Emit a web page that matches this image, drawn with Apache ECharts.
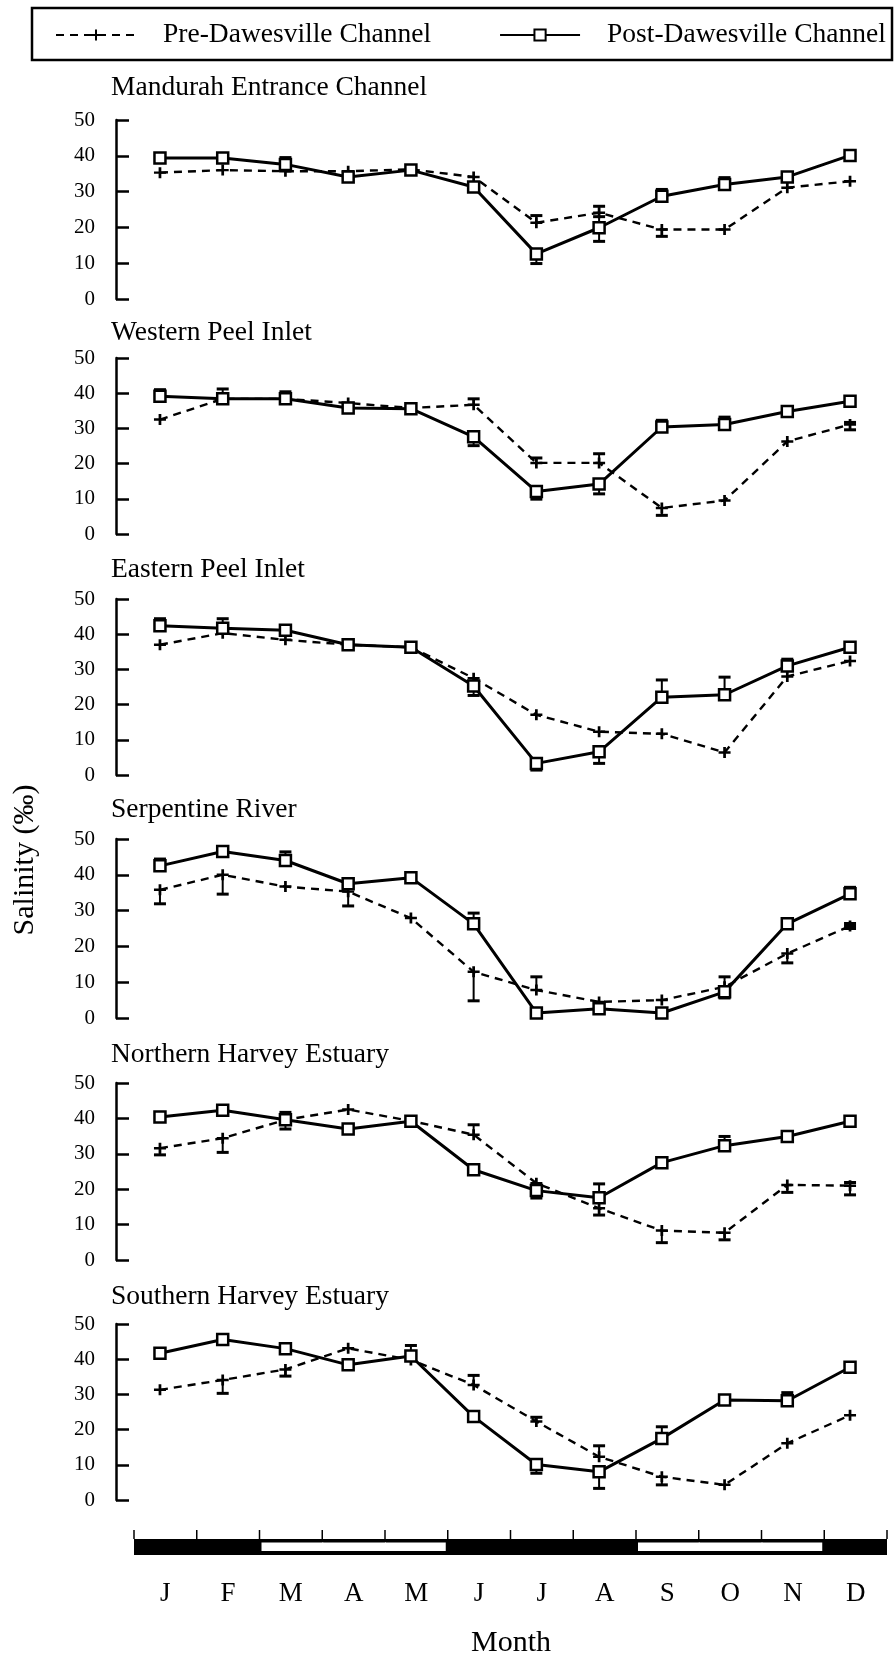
<!DOCTYPE html>
<html>
<head>
<meta charset="utf-8">
<script src="https://cdn.jsdelivr.net/npm/echarts@6/dist/echarts.min.js"></script>
<style>
  html, body { margin: 0; padding: 0; background: #fff; }
  #chart { width: 894px; height: 1658px; }
</style>
</head>
<body>
<div id="chart"></div>
<script>
// ---------- data ----------
const months = ['J', 'F', 'M', 'A', 'M', 'J', 'J', 'A', 'S', 'O', 'N', 'D'];
const seriesNames = ['Pre-Dawesville Channel', 'Post-Dawesville Channel'];
const sites = ['Mandurah Entrance Channel', 'Western Peel Inlet', 'Eastern Peel Inlet',
               'Serpentine River', 'Northern Harvey Estuary', 'Southern Harvey Estuary'];
const salinityMin = 0, salinityMax = 50, salinityStep = 10;
// 1 = dark season band, 0 = light season band
const seasonShade = [1, 1, 0, 0, 0, 1, 1, 1, 0, 0, 0, 1];

// mean salinity per month; error-bar ends as [low, high] (null = no bar)
const mandurahPre  = [35.3, 36.0, 35.7, 35.7, 36.2, 34.1, 21.3, 24.1, 19.4, 19.4, 31.1, 32.9];
const mandurahPreErr  = [null, null, null, null, null, null, [21.3, 23.3], [24.1, 25.9], [17.5, 19.4], null, null, null];
const mandurahPost = [39.4, 39.4, 37.6, 34.1, 36.0, 31.3, 12.6, 19.9, 28.7, 32.0, 34.1, 40.1];
const mandurahPostErr = [null, null, [37.6, 39.5], null, null, null, [9.9, 12.6], [16.1, 23.0], [28.7, 30.6], [32.0, 33.9], null, null];

const westernPre  = [32.5, 38.4, 38.4, 37.2, 35.8, 36.7, 20.2, 20.2, 7.4, 9.5, 26.3, 31.1];
const westernPreErr  = [null, null, null, null, null, [36.7, 38.4], [20.2, 21.6], [20.2, 22.8], [5.3, 7.4], null, null, [29.6, 31.7]];
const westernPost = [39.1, 38.4, 38.4, 35.8, 35.6, 27.6, 12.1, 14.2, 30.4, 31.1, 34.8, 37.7];
const westernPostErr = [[39.1, 41.0], [38.4, 41.2], [38.4, 40.4], null, null, [25.1, 27.6], [9.9, 12.1], [11.4, 14.2], [30.4, 32.3], [31.1, 33.2], null, null];

const easternPre  = [37.0, 40.3, 38.4, 37.0, 36.3, 27.5, 17.1, 12.3, 11.7, 6.4, 28.0, 32.4];
const easternPreErr  = [null, null, null, null, null, null, null, null, null, null, null, null];
const easternPost = [42.4, 41.7, 41.1, 37.0, 36.3, 25.3, 3.3, 6.6, 22.1, 22.8, 31.0, 36.3];
const easternPostErr = [[42.4, 44.4], [41.7, 44.4], null, null, null, [22.6, 25.3], [1.4, 3.3], [3.3, 6.6], [22.1, 27.0], [22.8, 27.8], [31.0, 32.9], null];

const serpentinePre  = [35.8, 40.0, 36.7, 35.3, 27.9, 12.9, 7.8, 4.5, 5.0, 8.7, 18.0, 25.7];
const serpentinePreErr  = [[31.9, 35.8], [34.6, 40.0], null, [31.3, 35.3], null, [4.8, 12.9], [7.8, 11.5], null, null, [8.7, 11.5], [15.4, 18.0], [25.0, 26.4]];
const serpentinePost = [42.5, 46.5, 44.0, 37.5, 39.2, 26.3, 1.4, 2.6, 1.4, 7.3, 26.3, 34.7];
const serpentinePostErr = [[42.5, 44.4], null, [44.0, 46.4], null, null, [26.3, 29.3], null, null, null, [5.6, 7.3], null, [34.7, 36.5]];

const northHarveyPre  = [31.6, 34.4, 39.6, 42.5, 39.3, 35.4, 21.7, 14.6, 8.3, 7.7, 21.2, 21.0];
const northHarveyPreErr  = [[29.7, 31.6], [30.4, 34.4], null, null, null, [35.4, 38.2], null, [12.7, 14.6], [4.9, 8.3], [5.7, 7.7], [19.1, 21.2], [18.4, 21.9]];
const northHarveyPost = [40.4, 42.3, 39.6, 37.0, 39.2, 25.5, 19.6, 17.6, 27.5, 32.3, 34.9, 39.2];
const northHarveyPostErr = [null, null, [37.0, 41.7], null, null, null, [17.5, 19.6], [17.6, 21.5], null, [32.3, 34.9], null, null];

const southHarveyPre  = [31.3, 34.1, 37.1, 43.1, 39.8, 32.7, 22.3, 12.3, 6.6, 4.3, 16.1, 24.1];
const southHarveyPreErr  = [null, [30.3, 34.1], [35.2, 37.1], null, null, [32.7, 35.4], [22.3, 23.5], [12.3, 15.4], [4.3, 6.6], null, null, null];
const southHarveyPost = [41.7, 45.6, 43.0, 38.4, 40.9, 23.7, 10.1, 8.0, 17.5, 28.4, 28.2, 37.7];
const southHarveyPostErr = [null, null, null, null, [40.9, 43.9], null, [7.6, 10.1], [3.3, 8.0], [17.5, 20.8], null, [28.2, 30.5], null];

const panels = [
  { pre: mandurahPre,    preErr: mandurahPreErr,    post: mandurahPost,    postErr: mandurahPostErr },
  { pre: westernPre,     preErr: westernPreErr,     post: westernPost,     postErr: westernPostErr },
  { pre: easternPre,     preErr: easternPreErr,     post: easternPost,     postErr: easternPostErr },
  { pre: serpentinePre,  preErr: serpentinePreErr,  post: serpentinePost,  postErr: serpentinePostErr },
  { pre: northHarveyPre, preErr: northHarveyPreErr, post: northHarveyPost, postErr: northHarveyPostErr },
  { pre: southHarveyPre, preErr: southHarveyPreErr, post: southHarveyPost, postErr: southHarveyPostErr }
];

// ---------- layout ----------
const FONT = '"Liberation Serif", "Times New Roman", "DejaVu Serif", serif';
const panelTop    = [120, 358, 599, 839, 1083, 1324];
const panelBottom = [299, 534, 775, 1018, 1260, 1500];
const titleY      = [88, 333, 570, 810, 1055, 1297];
const plotLeft = 128.6, plotRight = 12.6, axisOffset = 12.6;

const PLUS = 'path://M5,0L5,10M0,5L10,5';

function errorBarRenderer(params, api) {
  const idx = api.value(0);
  const mean = api.value(1), lo = api.value(2), hi = api.value(3);
  const x = api.coord([idx, mean])[0];
  const yLo = api.coord([idx, lo])[1];
  const yHi = api.coord([idx, hi])[1];
  const half = 6;
  const children = [{
    type: 'line', shape: { x1: x, y1: yLo, x2: x, y2: yHi },
    style: { stroke: '#000', lineWidth: 2 }
  }];
  if (hi !== mean) children.push({
    type: 'line', shape: { x1: x - half, y1: yHi, x2: x + half, y2: yHi },
    style: { stroke: '#000', lineWidth: 3 }
  });
  if (lo !== mean) children.push({
    type: 'line', shape: { x1: x - half, y1: yLo, x2: x + half, y2: yLo },
    style: { stroke: '#000', lineWidth: 3 }
  });
  return { type: 'group', children };
}

function errorData(values, ends) {
  const out = [];
  values.forEach((v, i) => { if (ends[i]) out.push([i, v, ends[i][0], ends[i][1]]); });
  return out;
}

// month strip: black band, light inner segments, and boundary ticks above
function seasonRenderer(params, api) {
  const i = api.value(0), shade = api.value(1);
  const cs = params.coordSys;
  const w = api.size([1, 0])[0];
  const cx = api.coord([i, 0.5])[0];
  const x0 = cx - w / 2;
  const tick = 9;
  const children = [];
  if (i === 0) children.push({
    type: 'rect', shape: { x: cs.x, y: cs.y, width: cs.width, height: cs.height },
    style: { fill: '#000' }
  });
  children.push({
    type: 'line', shape: { x1: x0, y1: cs.y - tick, x2: x0, y2: cs.y },
    style: { stroke: '#000', lineWidth: 1.5 }
  });
  if (i === seasonShade.length - 1) children.push({
    type: 'line', shape: { x1: x0 + w, y1: cs.y - tick, x2: x0 + w, y2: cs.y },
    style: { stroke: '#000', lineWidth: 1.5 }
  });
  if (shade === 0) {
    const padL = seasonShade[i - 1] === 0 ? 0 : 2;
    const padR = seasonShade[i + 1] === 0 ? -1 : 2;
    children.push({
      type: 'rect',
      shape: { x: x0 + padL, y: cs.y + 3.5, width: w - padL - padR, height: cs.height - 7.5 },
      style: { fill: '#fff' }
    });
  }
  return { type: 'group', children };
}

const grid = [], xAxis = [], yAxis = [], series = [], graphic = [];

panels.forEach((p, i) => {
  grid.push({ left: plotLeft, right: plotRight, top: panelTop[i], height: panelBottom[i] - panelTop[i], outerBoundsMode: 'none' });
  xAxis.push({ gridIndex: i, type: 'category', data: months, boundaryGap: true, show: false });
  yAxis.push({
    gridIndex: i, type: 'value', min: salinityMin, max: salinityMax, interval: salinityStep,
    offset: axisOffset,
    axisLine: { show: true, lineStyle: { color: '#000', width: 2.5 } },
    axisTick: { show: true, inside: true, length: 13, lineStyle: { color: '#000', width: 2.5 } },
    axisLabel: { color: '#000', fontFamily: FONT, fontSize: 21, margin: 21 },
    splitLine: { show: false }
  });
  series.push({
    type: 'custom', xAxisIndex: i, yAxisIndex: i, z: 2,
    renderItem: errorBarRenderer, data: errorData(p.pre, p.preErr),
    encode: { x: 0, y: [1, 2, 3] }, silent: true
  });
  series.push({
    type: 'custom', xAxisIndex: i, yAxisIndex: i, z: 2,
    renderItem: errorBarRenderer, data: errorData(p.post, p.postErr),
    encode: { x: 0, y: [1, 2, 3] }, silent: true
  });
  series.push({
    type: 'line', name: seriesNames[0], xAxisIndex: i, yAxisIndex: i, z: 3,
    data: p.pre, symbol: PLUS, symbolSize: [12, 11], showAllSymbol: true,
    lineStyle: { color: '#000', width: 2.4, type: [8, 6] },
    itemStyle: { color: '#000', borderColor: '#000', borderWidth: 2.6 },
    silent: true
  });
  series.push({
    type: 'line', name: seriesNames[1], xAxisIndex: i, yAxisIndex: i, z: 4,
    data: p.post, symbol: 'rect', symbolSize: 11, showAllSymbol: true,
    lineStyle: { color: '#000', width: 3 },
    itemStyle: { color: '#fff', borderColor: '#000', borderWidth: 2.5 },
    silent: true
  });
  graphic.push({
    type: 'text', x: 111, y: titleY[i],
    style: { text: sites[i], font: '27.5px ' + FONT, fill: '#000', verticalAlign: 'middle' }
  });
});

// month strip with season shading
const stripGrid = grid.length;
grid.push({ left: 134, right: 7, top: 1539, height: 16, outerBoundsMode: 'none' });
xAxis.push({
  gridIndex: stripGrid, type: 'category', data: months, boundaryGap: true, position: 'bottom',
  axisLine: { show: false }, axisTick: { show: false },
  axisLabel: { show: true, interval: 0, color: '#000', fontFamily: FONT, fontSize: 27, margin: 25 }
});
yAxis.push({ gridIndex: stripGrid, type: 'value', min: 0, max: 1, show: false });
series.push({
  type: 'custom', xAxisIndex: stripGrid, yAxisIndex: stripGrid,
  renderItem: seasonRenderer, data: seasonShade.map((s, i) => [i, s]),
  encode: { x: 0, y: 1 }, silent: true
});

graphic.push({
  type: 'rect', shape: { x: 32, y: 8, width: 860, height: 52 },
  style: { fill: 'none', stroke: '#000', lineWidth: 2.5 }, z: -1
});
graphic.push({
  type: 'text', x: 25, y: 860, rotation: Math.PI / 2,
  style: { text: 'Salinity (‰)', font: '30px ' + FONT, fill: '#000', align: 'center', verticalAlign: 'middle' }
});
graphic.push({
  type: 'text', x: 511, y: 1643,
  style: { text: 'Month', font: '30px ' + FONT, fill: '#000', align: 'center', verticalAlign: 'middle' }
});

const chart = echarts.init(document.getElementById('chart'), null, { renderer: 'canvas' });
chart.setOption({
  animation: false,
  backgroundColor: '#fff',
  legend: {
    left: 55, top: 21, width: 839, padding: 0, itemWidth: 80, itemHeight: 14, itemGap: 68,
    data: seriesNames,
    textStyle: { color: '#000', fontFamily: FONT, fontSize: 27.5, padding: [0, 0, 0, 22] },
    selectedMode: false
  },
  grid, xAxis, yAxis, series, graphic
});
</script>
</body>
</html>
